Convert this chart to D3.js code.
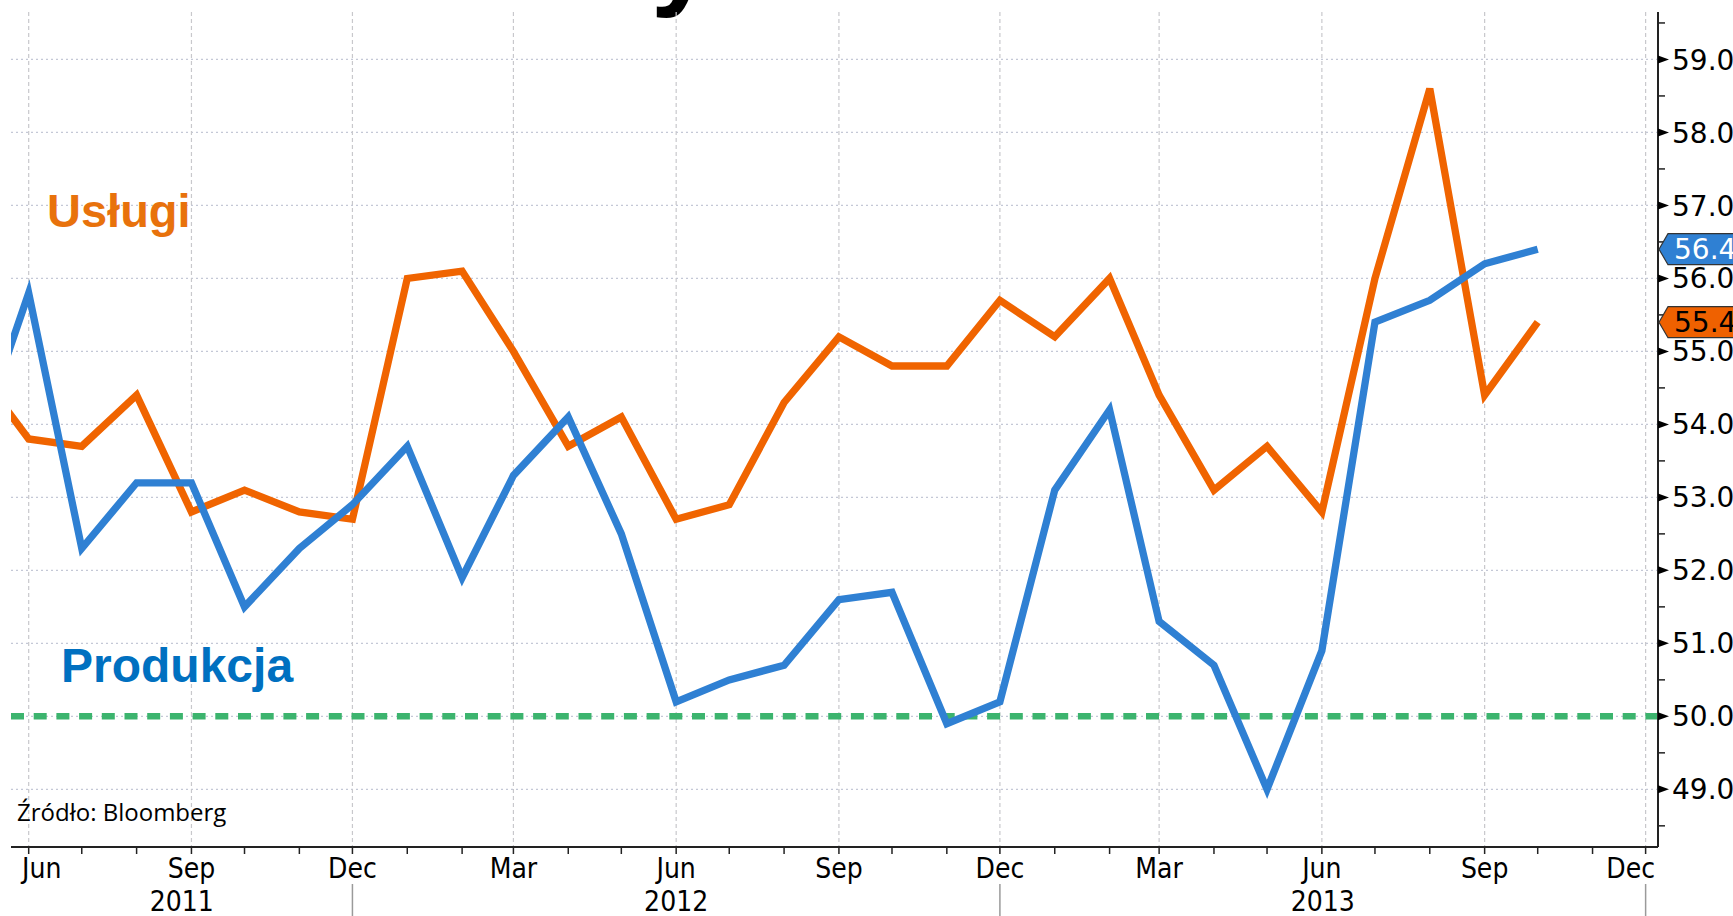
<!DOCTYPE html>
<html>
<head>
<meta charset="utf-8">
<script src="https://cdn.jsdelivr.net/npm/d3@7"></script>
<style>
  html, body { margin: 0; padding: 0; background: #fff; overflow: hidden; }
  svg { display: block; }
</style>
</head>
<body>
<svg id="chart" width="1733" height="916"></svg>
<script>
// monthly readings, May 2011 .. Oct 2013
const months = ["2011-05", "2011-06", "2011-07", "2011-08", "2011-09", "2011-10", "2011-11", "2011-12",
  "2012-01", "2012-02", "2012-03", "2012-04", "2012-05", "2012-06", "2012-07", "2012-08", "2012-09", "2012-10", "2012-11", "2012-12",
  "2013-01", "2013-02", "2013-03", "2013-04", "2013-05", "2013-06", "2013-07", "2013-08", "2013-09", "2013-10"]

const produkcja = [53.6, 55.8, 52.3, 53.2, 53.2, 51.5, 52.3, 52.9,
  53.7, 51.9, 53.3, 54.1, 52.5, 50.2, 50.5, 50.7, 51.6, 51.7, 49.9, 50.2,
  53.1, 54.2, 51.3, 50.7, 49.0, 50.9, 55.4, 55.7, 56.2, 56.4]

const uslugi = [54.8, 53.8, 53.7, 54.4, 52.8, 53.1, 52.8, 52.7,
  56.0, 56.1, 55.0, 53.7, 54.1, 52.7, 52.9, 54.3, 55.2, 54.8, 54.8, 55.7,
  55.2, 56.0, 54.4, 53.1, 53.7, 52.8, 56.0, 58.6, 54.4, 55.4]

const yTicks = [49, 50, 51, 52, 53, 54, 55, 56, 57, 58, 59]
const yMinor = [48.5, 49.5, 50.5, 51.5, 52.5, 53.5, 54.5, 55.5, 56.5, 57.5, 58.5, 59.5]
const years = ["2011", "2012", "2013"]
const yearBreaks = ["2011-12", "2012-12", "2013-12"]
const threshold = 50

const svg = d3.select("#chart")
const parse = d3.timeParse("%Y-%m")
const dates = months.map(parse)

const plotLeft = 11, plotRight = 1658, plotTop = 12, plotBottom = 847

const x = d3.scaleTime()
  .domain([new Date(2011, 4, 22), new Date(2013, 11, 8)])
  .range([plotLeft, plotRight])
const y = d3.scaleLinear()
  .domain([48.21, 59.65])
  .range([plotBottom, plotTop])

const quarterTicks = d3.timeMonth.range(new Date(2011, 5, 1), new Date(2013, 11, 2), 3)
const monthTicks = d3.timeMonth.range(new Date(2011, 5, 1), new Date(2013, 11, 2))

// title, cut off by the top edge
svg.append("text")
  .attr("x", 651)
  .attr("y", -5)
  .attr("font-family", "Liberation Sans, Arial, sans-serif")
  .attr("font-weight", "bold")
  .attr("font-size", 112)
  .attr("fill", "#000")
  .text("y")

// grid
svg.append("g")
  .selectAll("line")
  .data(yTicks)
  .join("line")
  .attr("x1", plotLeft).attr("x2", plotRight)
  .attr("y1", d => y(d)).attr("y2", d => y(d))
  .attr("stroke", "#c4c8d6")
  .attr("stroke-width", 1.3)
  .attr("stroke-dasharray", "2,3")

svg.append("g")
  .selectAll("line")
  .data(quarterTicks)
  .join("line")
  .attr("x1", d => x(d)).attr("x2", d => x(d))
  .attr("y1", plotTop).attr("y2", plotBottom)
  .attr("stroke", "#c8c8cc")
  .attr("stroke-width", 1.2)
  .attr("stroke-dasharray", "4,3")

// 50 line
svg.append("line")
  .attr("x1", plotLeft).attr("x2", plotRight)
  .attr("y1", y(threshold)).attr("y2", y(threshold))
  .attr("stroke", "#3cb46e")
  .attr("stroke-width", 6.5)
  .attr("stroke-dasharray", "13,9.7")

svg.append("clipPath").attr("id", "plot")
  .append("rect")
  .attr("x", plotLeft).attr("y", 0)
  .attr("width", plotRight - plotLeft).attr("height", plotBottom)

const line = d3.line()
  .x((d, i) => x(dates[i]))
  .y(d => y(d))

svg.append("path")
  .attr("d", line(uslugi))
  .attr("clip-path", "url(#plot)")
  .attr("fill", "none")
  .attr("stroke", "#f06400")
  .attr("stroke-width", 7.3)
  .attr("stroke-linejoin", "miter")

svg.append("path")
  .attr("d", line(produkcja))
  .attr("clip-path", "url(#plot)")
  .attr("fill", "none")
  .attr("stroke", "#2f80d3")
  .attr("stroke-width", 7.3)
  .attr("stroke-linejoin", "miter")

// right axis
const yAxis = svg.append("g")
yAxis.append("line")
  .attr("x1", plotRight).attr("x2", plotRight)
  .attr("y1", plotTop).attr("y2", plotBottom)
  .attr("stroke", "#222").attr("stroke-width", 2)

yAxis.selectAll(".minor")
  .data(yMinor)
  .join("line")
  .attr("class", "minor")
  .attr("x1", plotRight).attr("x2", plotRight + 7)
  .attr("y1", d => y(d)).attr("y2", d => y(d))
  .attr("stroke", "#222").attr("stroke-width", 1.5)

yAxis.selectAll("path.tick")
  .data(yTicks)
  .join("path")
  .attr("class", "tick")
  .attr("d", d => `M${plotRight},${y(d) - 4}L${plotRight + 11},${y(d)}L${plotRight},${y(d) + 4}Z`)
  .attr("fill", "#000")

yAxis.selectAll("text")
  .data(yTicks)
  .join("text")
  .attr("x", plotRight + 14)
  .attr("y", d => y(d))
  .attr("dy", "0.36em")
  .attr("font-family", "DejaVu Sans, Verdana, sans-serif")
  .attr("font-size", 28)
  .attr("fill", "#000")
  .text(d => d3.format(".1f")(d))

// last value badges
const lastIdx = months.length - 1
const badges = [
  { v: uslugi[lastIdx], fill: "#ef6100", text: "#000" },
  { v: produkcja[lastIdx], fill: "#2f80d3", text: "#fff" }
]
for (let b of badges) {
  let cy = y(b.v)
  let h = 15.5
  svg.append("path")
    .attr("d", `M${plotRight + 1},${cy}L${plotRight + 10},${cy - h}L${plotRight + 90},${cy - h}L${plotRight + 90},${cy + h}L${plotRight + 10},${cy + h}Z`)
    .attr("fill", b.fill)
    .attr("stroke", "#333")
    .attr("stroke-width", 1.2)
  svg.append("text")
    .attr("x", plotRight + 16)
    .attr("y", cy)
    .attr("dy", "0.36em")
    .attr("font-family", "DejaVu Sans, Verdana, sans-serif")
    .attr("font-size", 28)
    .attr("fill", b.text)
    .text(d3.format(".1f")(b.v))
}

// bottom axis
const xAxis = svg.append("g")
xAxis.append("line")
  .attr("x1", plotLeft).attr("x2", plotRight)
  .attr("y1", plotBottom).attr("y2", plotBottom)
  .attr("stroke", "#222").attr("stroke-width", 2)

xAxis.selectAll(".mt")
  .data(monthTicks)
  .join("line")
  .attr("class", "mt")
  .attr("x1", d => x(d)).attr("x2", d => x(d))
  .attr("y1", plotBottom).attr("y2", plotBottom + 7)
  .attr("stroke", "#222").attr("stroke-width", 1.5)

const fmtMonth = d3.timeFormat("%b")
xAxis.selectAll("text.month")
  .data(quarterTicks)
  .join("text")
  .attr("class", "month")
  .attr("y", 878)
  .attr("text-anchor", "middle")
  .attr("font-family", "DejaVu Sans Condensed, DejaVu Sans, sans-serif")
  .attr("font-size", 28)
  .attr("fill", "#000")
  .text(d => fmtMonth(d))
  .attr("x", function (d) {
    let w = this.getComputedTextLength()
    let cx = x(d)
    cx = Math.max(cx, 22 + w / 2)
    cx = Math.min(cx, 1655 - w / 2)
    return cx
  })

// year groups, split at the December lines
const breaks = yearBreaks.map(parse)
const yearStart = [plotLeft, x(breaks[0]), x(breaks[1])]
xAxis.selectAll("text.year")
  .data(years)
  .join("text")
  .attr("class", "year")
  .attr("x", (d, i) => (yearStart[i] + x(breaks[i])) / 2)
  .attr("y", 911)
  .attr("text-anchor", "middle")
  .attr("font-family", "DejaVu Sans Condensed, DejaVu Sans, sans-serif")
  .attr("font-size", 28)
  .attr("fill", "#000")
  .text(d => d)

xAxis.selectAll("line.sep")
  .data(breaks)
  .join("line")
  .attr("class", "sep")
  .attr("x1", d => x(d)).attr("x2", d => x(d))
  .attr("y1", 884).attr("y2", 916)
  .attr("stroke", "#9a9a9a").attr("stroke-width", 1.5)

// series labels and source
svg.append("text")
  .attr("x", 47).attr("y", 227)
  .attr("font-family", "Liberation Sans, Arial, sans-serif")
  .attr("font-weight", "bold")
  .attr("font-size", 47)
  .attr("fill", "#e8720c")
  .text("Usługi")

svg.append("text")
  .attr("x", 61).attr("y", 682)
  .attr("font-family", "Liberation Sans, Arial, sans-serif")
  .attr("font-weight", "bold")
  .attr("font-size", 48)
  .attr("fill", "#0070c0")
  .text("Produkcja")

svg.append("text")
  .attr("x", 17).attr("y", 821)
  .attr("font-family", "Open Sans, sans-serif")
  .attr("font-size", 24)
  .attr("fill", "#000")
  .text("Źródło: Bloomberg")
</script>
</body>
</html>
